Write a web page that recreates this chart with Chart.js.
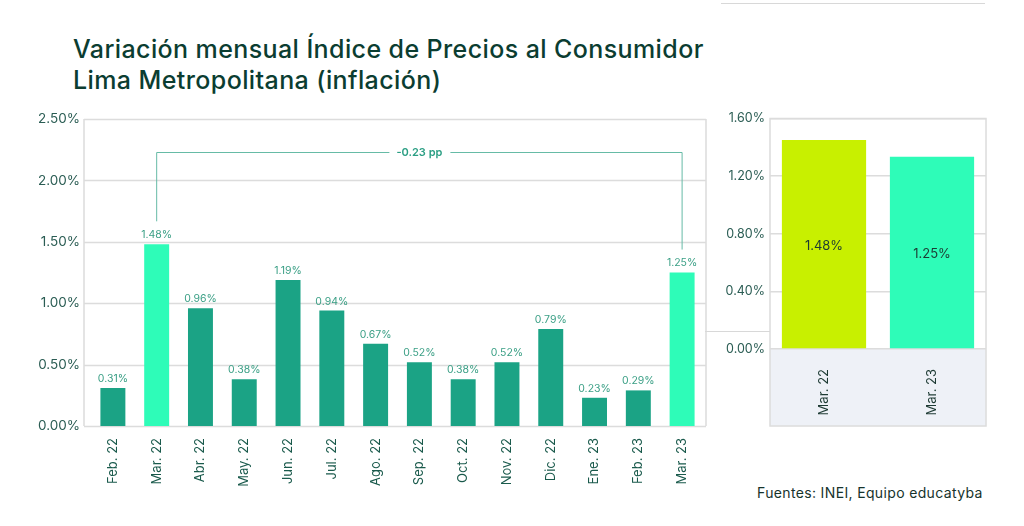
<!DOCTYPE html>
<html>
<head>
<meta charset="utf-8">
<script src="https://cdn.jsdelivr.net/npm/chart.js@4"></script>
<style>
  body { margin: 0; background: #fff; font-family: Inter, "Noto Sans", sans-serif; }
  .page { position: relative; width: 1024px; height: 526px; overflow: hidden; }
  h1 { position: absolute; left: 73px; top: 34px; margin: 0; font-size: 25px; font-weight: 500; line-height: 31px; color: #0b3d31; letter-spacing: 0.4px; }
  .topline { position: absolute; left: 721px; top: 3px; width: 264px; height: 1px; background: #d8d8d8; }
  .sep { position: absolute; left: 705px; top: 331px; width: 65px; height: 1px; background: #d8d8d8; }
  .source { position: absolute; left: 757px; top: 484px; font-size: 14px; letter-spacing: 0.35px; color: #16332c; }
  #main { position: absolute; left: 30px; top: 108px; }
  #compare { position: absolute; left: 720px; top: 106px; }
</style>
</head>
<body>
<div class="page">
  <div class="topline"></div>
  <h1>Variación mensual Índice de Precios al Consumidor<br>Lima Metropolitana (inflación)</h1>
  <canvas id="main" width="680" height="412"></canvas>
  <canvas id="compare" width="267" height="321"></canvas>
  <div class="sep"></div>
  <div class="source">Fuentes: INEI, Equipo educatyba</div>
</div>
<script>
const categories = ['Feb. 22', 'Mar. 22', 'Abr. 22', 'May. 22', 'Jun. 22', 'Jul. 22', 'Ago. 22',
    'Sep. 22', 'Oct. 22', 'Nov. 22', 'Dic. 22', 'Ene. 23', 'Feb. 23', 'Mar. 23'];
const monthlyValues = [0.31, 1.48, 0.96, 0.38, 1.19, 0.94, 0.67, 0.52, 0.38, 0.52, 0.79, 0.23, 0.29, 1.25];
const highlighted = ['Mar. 22', 'Mar. 23'];
const mainTicks = [0, 0.5, 1, 1.5, 2, 2.5];
const deltaLabel = '-0.23 pp';

const compareCategories = ['Mar. 22', 'Mar. 23'];
const compareValues = [1.45, 1.335];
const compareLabels = ['1.48%', '1.25%'];
const compareTicks = [0, 0.4, 0.8, 1.2, 1.6];

const FONT = 'Inter, "Noto Sans", sans-serif';
const DARK = '#1ba385';
const BRIGHT = '#2efcb8';
const LIME = '#c8f000';
const GRID = '#dcdcdc';
const TICK = '#2b5d54';

const barColors = categories.map(c => highlighted.includes(c) ? BRIGHT : DARK);

// grid + frame drawn a little wider than the category band, as in the original
const mainFrame = {
    id: 'mainFrame',
    beforeDatasetsDraw(chart) {
        const { ctx, chartArea: ca, scales } = chart;
        const left = ca.left - 7, right = ca.right + 2;
        ctx.save();
        ctx.strokeStyle = GRID;
        ctx.lineWidth = 1.5;
        ctx.beginPath();
        mainTicks.forEach(v => {
            const y = Math.round(scales.y.getPixelForValue(v)) + 0.5;
            ctx.moveTo(left, y);
            ctx.lineTo(right, y);
        });
        ctx.moveTo(left, ca.top);
        ctx.lineTo(left, ca.bottom);
        ctx.moveTo(right, ca.top);
        ctx.lineTo(right, ca.bottom);
        ctx.stroke();
        ctx.restore();
    }
};

const valueLabels = {
    id: 'valueLabels',
    afterDatasetsDraw(chart) {
        const ctx = chart.ctx;
        const meta = chart.getDatasetMeta(0);
        ctx.save();
        ctx.font = '10.5px ' + FONT;
        ctx.fillStyle = '#3a9f85';
        ctx.textAlign = 'center';
        ctx.textBaseline = 'bottom';
        meta.data.forEach((bar, i) => {
            ctx.fillText(monthlyValues[i].toFixed(2) + '%', bar.x, bar.y - 4);
        });
        ctx.restore();
    }
};

const bracket = {
    id: 'bracket',
    afterDatasetsDraw(chart) {
        const ctx = chart.ctx;
        const meta = chart.getDatasetMeta(0);
        const a = meta.data[categories.indexOf('Mar. 22')];
        const b = meta.data[categories.indexOf('Mar. 23')];
        const yTop = Math.round(chart.scales.y.getPixelForValue(2.23)) + 0.5;
        const mid = (a.x + b.x) / 2;
        ctx.save();
        ctx.strokeStyle = '#66bba6';
        ctx.lineWidth = 1;
        ctx.beginPath();
        ctx.moveTo(a.x, a.y - 23);
        ctx.lineTo(a.x, yTop);
        ctx.lineTo(mid - 30, yTop);
        ctx.moveTo(mid + 31, yTop);
        ctx.lineTo(b.x, yTop);
        ctx.lineTo(b.x, b.y - 23);
        ctx.stroke();
        ctx.font = '600 11px ' + FONT;
        ctx.fillStyle = '#2a9e83';
        ctx.textAlign = 'center';
        ctx.textBaseline = 'middle';
        ctx.fillText(deltaLabel, mid, yTop);
        ctx.restore();
    }
};

new Chart(document.getElementById('main'), {
    type: 'bar',
    data: {
        labels: categories,
        datasets: [{
            data: monthlyValues,
            backgroundColor: barColors,
            categoryPercentage: 1,
            barPercentage: 0.57
        }]
    },
    options: {
        responsive: false,
        animation: false,
        layout: { padding: { top: 8, right: 6 } },
        plugins: { legend: { display: false }, tooltip: { enabled: false } },
        scales: {
            x: {
                grid: { display: false },
                border: { display: false },
                ticks: {
                    color: '#1a5a4c', font: { family: FONT, size: 13 },
                    maxRotation: 90, minRotation: 90, padding: 4
                },
                afterFit(scale) { scale.height = 94; }
            },
            y: {
                min: 0, max: 2.5,
                afterBuildTicks(scale) { scale.ticks = mainTicks.map(v => ({ value: v })); },
                grid: { display: false },
                border: { display: false },
                ticks: {
                    color: TICK, font: { family: FONT, size: 13.5 }, padding: 3,
                    callback: v => v.toFixed(2) + '%'
                },
                afterFit(scale) { scale.width = 61; }
            }
        }
    },
    plugins: [mainFrame, valueLabels, bracket]
});

const compareBg = {
    id: 'compareBg',
    beforeDraw(chart) {
        const { ctx, chartArea: ca } = chart;
        ctx.save();
        ctx.fillStyle = '#eef1f7';
        ctx.fillRect(ca.left, ca.bottom, ca.right - ca.left, chart.height - ca.bottom - 1);
        ctx.strokeStyle = GRID;
        ctx.lineWidth = 1.5;
        ctx.strokeRect(ca.left, ca.top, ca.right - ca.left, chart.height - ca.top - 1);
        ctx.restore();
    }
};

const compareText = {
    id: 'compareText',
    afterDatasetsDraw(chart) {
        const ctx = chart.ctx;
        const meta = chart.getDatasetMeta(0);
        ctx.save();
        ctx.font = '13px ' + FONT;
        ctx.fillStyle = '#1d3a33';
        ctx.textAlign = 'center';
        ctx.textBaseline = 'middle';
        meta.data.forEach((bar, i) => {
            ctx.fillText(compareLabels[i], bar.x, (bar.y + bar.base) / 2 + 2);
        });
        ctx.restore();
    }
};

new Chart(document.getElementById('compare'), {
    type: 'bar',
    data: {
        labels: compareCategories,
        datasets: [{
            data: compareValues,
            backgroundColor: [LIME, BRIGHT],
            categoryPercentage: 1,
            barPercentage: 0.78
        }]
    },
    options: {
        responsive: false,
        animation: false,
        layout: { padding: { top: 8, right: 1 } },
        plugins: { legend: { display: false }, tooltip: { enabled: false } },
        scales: {
            x: {
                grid: { display: false },
                border: { display: false },
                ticks: {
                    color: '#1d3a33', font: { family: FONT, size: 13 },
                    maxRotation: 90, minRotation: 90, padding: 12
                },
                afterFit(scale) { scale.height = 78; }
            },
            y: {
                min: 0, max: 1.6,
                afterBuildTicks(scale) { scale.ticks = compareTicks.map(v => ({ value: v })); },
                grid: { color: GRID, lineWidth: 1.5, drawTicks: false },
                border: { display: false },
                ticks: {
                    color: TICK, font: { family: FONT, size: 12.5 }, padding: 5,
                    callback: v => v.toFixed(2) + '%'
                },
                afterFit(scale) { scale.width = 50; }
            }
        }
    },
    plugins: [compareBg, compareText]
});
</script>
</body>
</html>
